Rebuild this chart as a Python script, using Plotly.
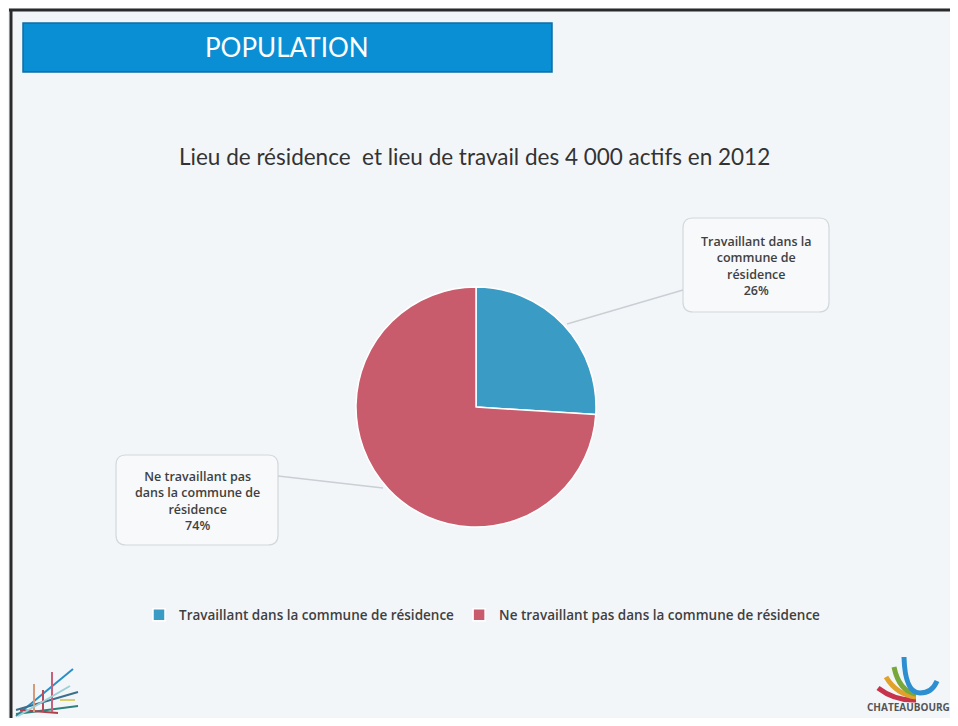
import plotly.graph_objects as go

# ---- data ----
labels = ["Travaillant dans la commune de résidence",
          "Ne travaillant pas dans la commune de résidence"]
values = [26, 74]
callout_labels = ["Travaillant dans la<br>commune de<br>résidence",
                  "Ne travaillant pas<br>dans la commune de<br>résidence"]
colors = ["#3a9bc5", "#c95c6c"]
header_text = "POPULATION"
title_text = "Lieu de résidence  et lieu de travail des 4 000 actifs en 2012"
logo_text = "CHATEAUBOURG"

# page body has an 8px margin: figure is placed at (8, 8); keep it inside the window
OFF = 8
W, H = 958 - 2 * OFF, 726 - 2 * OFF
def px(x): return (x - OFF) / W
def py(y): return 1 - (y - OFF) / H

FONT = "Open Sans, sans-serif"

fig = go.Figure()
fig.add_trace(go.Pie(
    labels=labels, values=values, sort=False, direction="clockwise", rotation=0,
    marker=dict(colors=colors, line=dict(color="white", width=1.5)),
    textinfo="none", hoverinfo="label+percent",
    domain=dict(x=[px(356), px(596)], y=[py(527), py(287)]),
))

def rrect(x0, y0, x1, y1, r):
    return (f"M {px(x0+r)},{py(y0)} L {px(x1-r)},{py(y0)} "
            f"Q {px(x1)},{py(y0)} {px(x1)},{py(y0+r)} L {px(x1)},{py(y1-r)} "
            f"Q {px(x1)},{py(y1)} {px(x1-r)},{py(y1)} L {px(x0+r)},{py(y1)} "
            f"Q {px(x0)},{py(y1)} {px(x0)},{py(y1-r)} L {px(x0)},{py(y0+r)} "
            f"Q {px(x0)},{py(y0)} {px(x0+r)},{py(y0)} Z")

def P(*pts):
    return " ".join(f"{c} {px(x)},{py(y)}" if c else f"{px(x)},{py(y)}" for c, x, y in pts)

shapes = []
# inner background
shapes.append(dict(type="rect", xref="paper", yref="paper", x0=px(12), x1=1, y0=0, y1=py(11),
                   fillcolor="#f3f6f9", line=dict(width=0), layer="below"))
# frame lines
shapes.append(dict(type="line", xref="paper", yref="paper", x0=px(9), x1=1, y0=py(10), y1=py(10),
                   line=dict(color="#2a2a2a", width=3)))
shapes.append(dict(type="line", xref="paper", yref="paper", x0=px(11), x1=px(11), y0=py(9), y1=0,
                   line=dict(color="#2a2a2a", width=3)))
# header bar
shapes.append(dict(type="rect", xref="paper", yref="paper", x0=px(23), x1=px(552), y0=py(72), y1=py(23),
                   fillcolor="#0b8fd4", line=dict(color="#0a6fa8", width=1.5), layer="below"))
# callout boxes
shapes.append(dict(type="path", xref="paper", yref="paper", path=rrect(683, 218, 829, 312, 10),
                   fillcolor="#f7f9fb", line=dict(color="#d3d8dc", width=1.2)))
shapes.append(dict(type="path", xref="paper", yref="paper", path=rrect(116, 455, 278, 545, 10),
                   fillcolor="#f7f9fb", line=dict(color="#d3d8dc", width=1.2)))
# leader lines
shapes.append(dict(type="line", xref="paper", yref="paper", x0=px(683), y0=py(290), x1=px(567), y1=py(324),
                   line=dict(color="#c9cfd4", width=1.5)))
shapes.append(dict(type="line", xref="paper", yref="paper", x0=px(278), y0=py(476), x1=px(383), y1=py(488),
                   line=dict(color="#c9cfd4", width=1.5)))

# left logo (decorative arrows)
logo_lines = [
    ((16, 716), (73, 669), "#2a8fc6"), ((16, 710), (78, 692), "#3b6f8c"),
    ((16, 714), (78, 706), "#2f7f7a"), ((20, 710), (58, 713), "#b0404a"),
    ((34, 712), (34, 684), "#d59a7a"), ((43, 712), (43, 690), "#b44a5c"),
    ((52, 712), (52, 672), "#c7607a"), ((18, 716), (70, 686), "#9ccfd6"),
    ((60, 700), (75, 700), "#d8d070"),
]
for (x0, y0), (x1, y1), c in logo_lines:
    shapes.append(dict(type="line", xref="paper", yref="paper", x0=px(x0), y0=py(y0), x1=px(x1), y1=py(y1),
                       line=dict(color=c, width=2)))
# right logo (curved strokes)
strokes = [
    ("#c6334a", P(("M", 878, 688), ("Q", 895, 701), ("", 916, 700))),
    ("#e0a22a", P(("M", 886, 677), ("Q", 897, 695), ("", 916, 697))),
    ("#78a83a", P(("M", 894, 667), ("Q", 899, 691), ("", 916, 694))),
    ("#2e8fd0", P(("M", 904, 657), ("Q", 905, 693), ("", 920, 693), ("Q", 932, 693), ("", 937, 681))),
]
for c, path in strokes:
    shapes.append(dict(type="path", xref="paper", yref="paper", path=path, line=dict(color=c, width=5)))

annotations = [
    dict(text=header_text, x=px(287), y=py(47), xref="paper", yref="paper", showarrow=False,
         xanchor="center", yanchor="middle",
         font=dict(family="Lato, Open Sans, sans-serif", size=26, color="white")),
    dict(text=title_text, x=px(474), y=py(157), xref="paper", yref="paper", showarrow=False,
         xanchor="center", yanchor="middle",
         font=dict(family="Lato, Open Sans, sans-serif", size=22.5, color="#333333")),
    dict(text=f"{callout_labels[0]}<br>{values[0]}%", x=px(756), y=py(266), xref="paper", yref="paper",
         showarrow=False, align="center", xanchor="center", yanchor="middle",
         font=dict(family=FONT, size=12.5, color="#404040", weight=600)),
    dict(text=f"{callout_labels[1]}<br>{values[1]}%", x=px(197), y=py(501), xref="paper", yref="paper",
         showarrow=False, align="center", xanchor="center", yanchor="middle",
         font=dict(family=FONT, size=12.5, color="#404040", weight=600)),
    dict(text=f"<b>{logo_text}</b>", x=px(908), y=py(707), xref="paper", yref="paper", showarrow=False,
         xanchor="center", yanchor="middle",
         font=dict(family=FONT, size=10, color="#555555")),
]

fig.update_layout(
    width=W, height=H, margin=dict(l=0, r=0, t=0, b=0),
    paper_bgcolor="#f3f6f9", plot_bgcolor="#f3f6f9",
    shapes=shapes, annotations=annotations,
    showlegend=True,
    legend=dict(orientation="h", x=px(139), y=py(615), xanchor="left", yanchor="middle",
                font=dict(family=FONT, size=13.5, color="#404040", weight=600),
                bgcolor="rgba(0,0,0,0)", itemclick=False),
)

fig.write_html("out.html", config={"displayModeBar": False})
